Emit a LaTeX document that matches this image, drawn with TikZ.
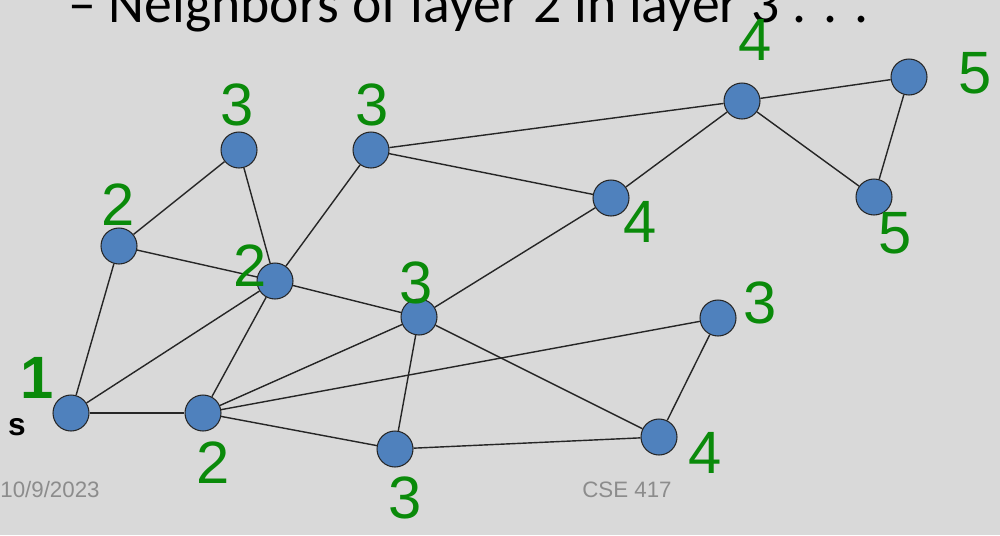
\documentclass[tikz,border=0pt]{standalone}
\usepackage{fontspec}
\setmainfont{Liberation Sans}
\newfontfamily\slidefont{Carlito}
\usepackage{tikz}
\usepackage{xcolor}

\definecolor{slidebg}{HTML}{D9D9D9}
\definecolor{nodeblue}{HTML}{4F81BD}
\definecolor{penGreen}{HTML}{0A8A0A}
\definecolor{footgray}{HTML}{8C8C8C}

\begin{document}
\begin{tikzpicture}[
	x=0.02cm, y=-0.02cm,
	vtx/.style={circle, draw=black!85, line width=0.6pt, fill=nodeblue, minimum size=0.72cm, inner sep=0pt},
	edge/.style={draw=black!85, line width=0.8pt},
	layer/.style={text=penGreen, font=\fontsize{34}{34}\selectfont},
	foot/.style={text=footgray, font=\fontsize{12.7}{14}\selectfont}
]
	\fill[slidebg] (0,0) rectangle (1000,535);
	\useasboundingbox (0,0) rectangle (1000,535);
	\clip (0,0) rectangle (1000,535);

	% slide text
	\node[anchor=base west, inner sep=0pt, font=\slidefont\fontsize{31.7}{33}\selectfont] (title) at (68,22) {\textendash\ Neighbors of layer 2 in layer 3 . . .};
	\node[foot, anchor=base west, inner sep=0pt] (date) at (0,497) {10/9/2023};
	\node[foot, anchor=base, inner sep=0pt] (course) at (627,497) {CSE 417};

	% vertices
	\node[vtx] (s) at (71,413) {};
	\node[vtx] (a) at (203,413) {};
	\node[vtx] (b) at (119,246) {};
	\node[vtx] (c) at (275,281) {};
	\node[vtx] (d) at (239,150) {};
	\node[vtx] (e) at (371,150) {};
	\node[vtx] (f) at (419,317) {};
	\node[vtx] (g) at (395,449) {};
	\node[vtx] (h) at (718,318) {};
	\node[vtx] (i) at (659,437) {};
	\node[vtx] (j) at (611,198) {};
	\node[vtx] (k) at (742,101) {};
	\node[vtx] (l) at (909,77) {};
	\node[vtx] (m) at (874,197) {};

	\node[font=\bfseries\fontsize{18}{18}\selectfont, inner sep=0pt] (slabel) at (17,427) {s};

	% edges
	\foreach \u/\v in {s/a, s/b, s/c, b/d, b/c, d/c, c/e, c/f, c/a,
		a/f, a/h, a/g, f/g, f/j, f/i, g/i, h/i, e/k, e/j, j/k, k/l, k/m, l/m}
		\draw[edge] (\u) -- (\v);

	% layer numbers written on top
	\node[layer, font=\bfseries\fontsize{34}{34}\selectfont] (ls) at (37,378) {1};
	\node[layer] (la) at (213,463) {2};
	\node[layer] (lb) at (118,205) {2};
	\node[layer] (lc) at (250,266) {2};
	\node[layer] (ld) at (237,105) {3};
	\node[layer] (le) at (372,105) {3};
	\node[layer] (lf) at (416,283) {3};
	\node[layer] (lg) at (405,498) {3};
	\node[layer] (lh) at (760,303) {3};
	\node[layer] (li) at (705,453) {4};
	\node[layer] (lj) at (640,222) {4};
	\node[layer] (lk) at (755,40) {4};
	\node[layer] (ll) at (975,73) {5};
	\node[layer] (lm) at (895,233) {5};
\end{tikzpicture}
\end{document}
